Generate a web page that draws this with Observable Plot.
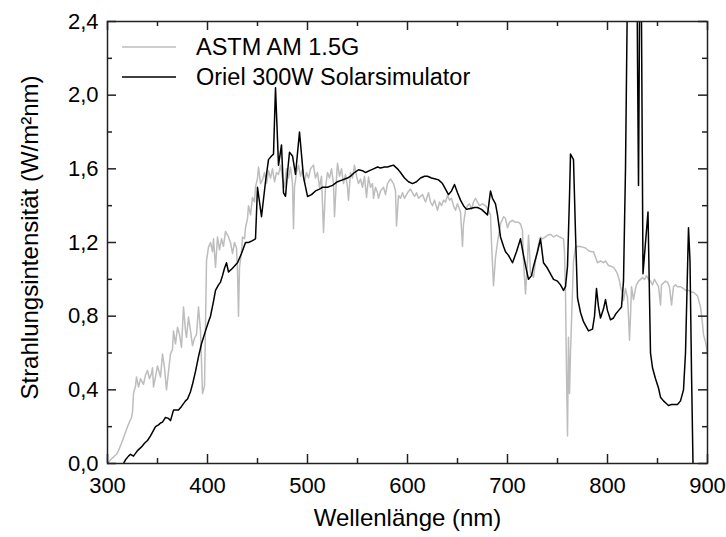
<!DOCTYPE html>
<html><head><meta charset="utf-8">
<script src="https://cdn.jsdelivr.net/npm/d3@7"></script>
<script src="https://cdn.jsdelivr.net/npm/@observablehq/plot@0.6"></script>
<style>body{margin:0;background:#fff}#chart{width:726px;height:537px}</style>
</head><body><div id="chart"></div><script>
// ---- data ----
const xTicks = [300, 400, 500, 600, 700, 800, 900];
const xMinor = [350, 450, 550, 650, 750, 850];
const yTicks = [0, 0.4, 0.8, 1.2, 1.6, 2.0, 2.4];
const yMinor = [0.2, 0.6, 1.0, 1.4, 1.8, 2.2];
const xLabel = "Wellenlänge (nm)";
const yLabel = "Strahlungsintensität (W/m²nm)";
const seriesNames = ["ASTM AM 1.5G", "Oriel 300W Solarsimulator"];

const astmNm = [300,303,306,309,311,314,316,318,320,322,324,325,326,328,329,331,333,335,336,338,340,342,344,345,346,348,350,352,353,355,357,359,361,363,365,366,368,370,372,374,376,378,379,381,383,385,387,389,391,393,395,397,399,401,403,405,406,408,410,412,414,416,418,421,423,425,427,429,430,431,432,434,435,437,438,440,441,443,445,447,448,450,451,453,455,457,459,461,463,465,467,469,471,473,475,477,479,481,483,485,486,487,489,491,493,495,497,499,501,503,506,508,510,512,514,516,518,520,522,524,526,527,529,530,532,534,536,538,540,541,543,545,547,549,551,553,555,557,559,561,563,565,566,568,570,571,573,576,578,580,583,586,588,589,591,593,595,597,600,603,605,607,609,611,613,615,618,621,623,625,627,630,632,634,636,638,640,642,644,646,648,650,653,655,656,658,660,662,664,666,668,670,672,675,678,681,683,684,686,688,690,693,696,698,700,702,705,708,711,713,715,716,718,720,721,722,723,725,726,728,731,733,735,738,740,743,746,749,752,756,757,758,759,760,761,762,763,765,766,768,771,775,778,781,784,786,788,790,793,796,798,801,804,806,808,810,812,813,815,816,818,820,821,822,823,824,826,828,829,831,833,835,837,839,841,843,845,847,849,851,853,854,856,858,860,862,864,866,868,870,873,876,878,881,884,886,888,890,893,895,896,898,899,900];
const astmVal = [0,0.02,0.035,0.05,0.07,0.11,0.14,0.17,0.2,0.225,0.25,0.28,0.38,0.42,0.47,0.415,0.46,0.44,0.43,0.48,0.505,0.46,0.49,0.52,0.415,0.47,0.53,0.49,0.47,0.595,0.52,0.4,0.5,0.595,0.62,0.72,0.65,0.74,0.7,0.63,0.85,0.72,0.685,0.795,0.72,0.64,0.68,0.7,0.85,0.72,0.38,0.42,1.1,1.175,1.2,1.15,1.22,1.065,1.23,1.16,1.22,1.18,1.26,1.23,1.2,1.14,1.2,1.17,1.05,0.8,1.065,1.15,1.23,1.22,1.28,1.33,1.4,1.35,1.445,1.42,1.5,1.55,1.61,1.52,1.54,1.58,1.52,1.59,1.55,1.6,1.53,1.58,1.57,1.62,1.55,1.5,1.6,1.55,1.61,1.52,1.275,1.5,1.58,1.62,1.56,1.6,1.53,1.58,1.55,1.6,1.62,1.55,1.58,1.5,1.56,1.255,1.5,1.58,1.55,1.6,1.52,1.34,1.55,1.63,1.56,1.6,1.52,1.57,1.5,1.43,1.58,1.55,1.62,1.56,1.52,1.545,1.5,1.56,1.445,1.555,1.5,1.52,1.44,1.5,1.47,1.44,1.48,1.5,1.46,1.52,1.545,1.52,1.48,1.29,1.455,1.44,1.47,1.44,1.47,1.49,1.47,1.45,1.47,1.44,1.45,1.46,1.42,1.47,1.42,1.4,1.43,1.375,1.42,1.4,1.43,1.42,1.455,1.43,1.44,1.4,1.375,1.41,1.365,1.18,1.3,1.375,1.4,1.41,1.38,1.42,1.44,1.42,1.4,1.41,1.4,1.375,1.35,1.2,0.965,1.12,1.2,1.3,1.34,1.33,1.28,1.31,1.32,1.31,1.31,1.3,1.265,1.1,0.92,1.1,1.24,1.15,1.03,1.02,1.01,1.1,1.19,1.23,1.22,1.23,1.24,1.245,1.23,1.24,1.23,1.22,1.15,0.92,0.5,0.15,0.685,0.38,0.6,0.94,1.1,1.175,1.18,1.175,1.17,1.155,1.15,1.15,1.12,1.09,1.1,1.09,1.1,1.075,1.07,1.065,1.05,1.03,0.99,0.96,0.92,0.885,0.95,0.9,0.8,0.67,0.8,0.96,0.89,0.95,0.97,0.99,1,1.01,1,1.02,1,0.99,0.97,1,0.98,0.96,0.86,0.97,0.98,0.99,0.985,0.96,0.86,0.96,0.97,0.96,0.96,0.95,0.94,0.94,0.93,0.93,0.92,0.91,0.85,0.76,0.7,0.66,0.63,0.59];

const orielNm = [316,318,321,323,326,330,334,337,340,343,346,348,351,353,355,358,361,363,366,369,371,374,376,378,380,383,385,388,391,394,398,401,403,406,408,411,413,415,417,419,421,425,430,434,438,441,445,448,450,454,458,461,464,466,468,471,474,476,478,480,482,485,488,492,496,500,504,508,512,515,520,525,530,535,540,543,547,551,555,558,562,566,570,573,577,580,583,586,590,593,597,601,605,609,613,617,620,624,628,631,635,638,641,644,647,650,653,656,659,663,667,670,674,677,680,683,685,688,690,693,696,698,701,705,709,713,716,719,721,724,726,730,733,736,740,743,746,750,753,756,758,760,762,763,766,768,770,773,776,778,781,785,787,789,791,793,796,798,800,803,806,808,811,814,816,818,820,822,829,830,831,832,833,834,835.5,838,840.5,842,843,845,848,851,853,856,858,861,864,867,870,873,876,878,881,882.5,884,885.5];
const orielVal = [0,0.02,0.04,0.05,0.04,0.07,0.09,0.11,0.125,0.15,0.18,0.2,0.21,0.22,0.225,0.25,0.245,0.233,0.29,0.29,0.29,0.31,0.325,0.34,0.35,0.39,0.43,0.5,0.58,0.65,0.72,0.77,0.8,0.88,0.94,0.97,0.985,1.02,1.06,1.09,1.04,1.06,1.09,1.14,1.2,1.2,1.21,1.22,1.5,1.34,1.53,1.65,1.67,1.68,2.04,1.62,1.73,1.47,1.45,1.58,1.69,1.67,1.57,1.8,1.555,1.45,1.46,1.48,1.49,1.5,1.5,1.51,1.53,1.54,1.55,1.56,1.58,1.595,1.59,1.58,1.59,1.6,1.61,1.605,1.61,1.61,1.615,1.62,1.6,1.58,1.55,1.53,1.52,1.53,1.55,1.56,1.56,1.55,1.545,1.54,1.52,1.49,1.46,1.48,1.515,1.47,1.43,1.4,1.38,1.385,1.39,1.39,1.38,1.365,1.35,1.48,1.44,1.41,1.35,1.23,1.18,1.15,1.13,1.09,1.15,1.22,1.13,1.05,1,1.02,1.07,1.15,1.22,1.09,1.06,1.03,1,0.99,0.97,0.94,0.96,1.07,1.45,1.68,1.65,1.25,0.9,0.82,0.77,0.75,0.72,0.73,0.8,0.95,0.85,0.79,0.84,0.89,0.83,0.78,0.79,0.81,0.83,0.85,0.99,1.6,2.6,3.2,3.2,2.2,1.51,2.4,3.2,2.4,1.03,1.2,1.365,0.9,0.6,0.52,0.46,0.41,0.36,0.34,0.33,0.315,0.32,0.32,0.32,0.34,0.4,0.6,1.28,1.1,0.5,0];

// ---- layout ----
const W = 726, H = 537, mL = 107, mR = 19, mT = 21, mB = 74;
const pw = W - mL - mR, ph = H - mT - mB;
const font = "'Liberation Sans', Arial, Helvetica, sans-serif";
const frameColor = "#222";

const astm = astmNm.map((x, i) => ({x, y: astmVal[i]}));
const oriel = orielNm.map((x, i) => ({x, y: orielVal[i]}));

const tickStyle = {stroke: frameColor, strokeWidth: 1.5};
const chart = Plot.plot({
  width: W, height: H,
  marginLeft: mL, marginRight: mR, marginTop: mT, marginBottom: mB,
  style: {fontFamily: font, fontSize: "22px", color: "#000", background: "#fff"},
  x: {domain: [300, 900]},
  y: {domain: [0, 2.4]},
  marks: [
    Plot.line(astm, {x: "x", y: "y", stroke: "#bdbdbd", strokeWidth: 1.5, clip: true}),
    Plot.line(oriel, {x: "x", y: "y", stroke: "#000", strokeWidth: 1.5, clip: true}),
    Plot.tickX(xTicks, {x: d => d, insetTop: ph - 9, ...tickStyle}),
    Plot.tickX(xTicks, {x: d => d, insetBottom: ph - 9, ...tickStyle}),
    Plot.tickX(xMinor, {x: d => d, insetTop: ph - 5, ...tickStyle}),
    Plot.tickX(xMinor, {x: d => d, insetBottom: ph - 5, ...tickStyle}),
    Plot.tickY(yTicks, {y: d => d, insetRight: pw - 9, ...tickStyle}),
    Plot.tickY(yTicks, {y: d => d, insetLeft: pw - 9, ...tickStyle}),
    Plot.tickY(yMinor, {y: d => d, insetRight: pw - 5, ...tickStyle}),
    Plot.tickY(yMinor, {y: d => d, insetLeft: pw - 5, ...tickStyle}),
    Plot.frame({stroke: frameColor, strokeWidth: 1.5}),
    Plot.axisX({ticks: xTicks, tickSize: 0, tickPadding: 14, label: null, tickFormat: d => String(d), fontSize: 22}),
    Plot.axisY({ticks: yTicks, tickSize: 0, tickPadding: 9, label: null, tickFormat: d => d.toFixed(1).replace(".", ","), fontSize: 22}),
    Plot.text([xLabel], {text: d => d, frameAnchor: "bottom", textAnchor: "middle", dy: 62, fontSize: 24, fill: "#000"}),
    Plot.text([yLabel], {text: d => d, frameAnchor: "left", textAnchor: "middle", dx: -77, dy: -5, rotate: -90, fontSize: 24, fill: "#000"})
  ]
});
document.getElementById("chart").appendChild(chart);

// legend inside the frame
const svg = d3.select(chart);
const lg = svg.append("g").attr("font-family", font).attr("font-size", 23.5).attr("text-anchor", "start");
const legendColors = ["#bdbdbd", "#000"];
seriesNames.forEach((name, i) => {
  const yy = 47 + i * 30;
  lg.append("line").attr("x1", 122).attr("x2", 176).attr("y1", yy).attr("y2", yy)
    .attr("stroke", legendColors[i]).attr("stroke-width", 1.5);
  lg.append("text").attr("x", 196).attr("y", yy + 8).attr("fill", "#000").attr("text-anchor", "start").text(name);
});
</script></body></html>
